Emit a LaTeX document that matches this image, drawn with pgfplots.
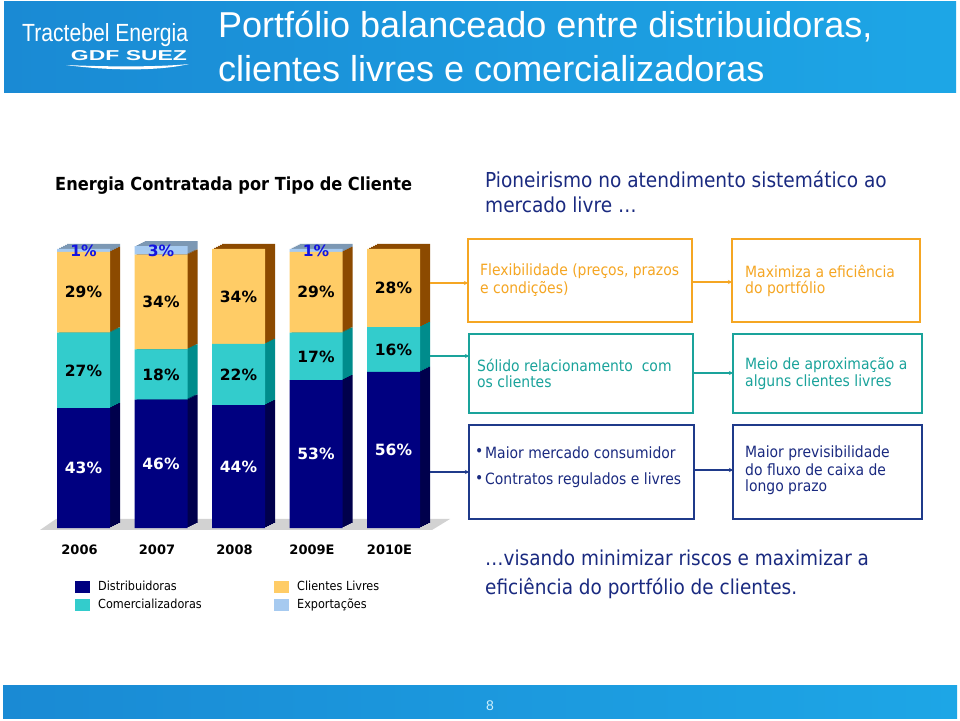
\documentclass[border=0pt]{standalone}
\usepackage{pgfplots}
\pgfplotsset{compat=1.18}
\usepackage{pgfplotstable}
\usepackage{fontspec}
\usepackage{graphicx}
\setmainfont{Liberation Sans}
\newfontfamily\tah{DejaVu Sans Condensed}
\newfontfamily\verd{DejaVu Sans}
\usetikzlibrary{arrows.meta}

\definecolor{cDist}{HTML}{000080}
\definecolor{cDistS}{HTML}{00004C}
\definecolor{cCom}{HTML}{33CCCC}
\definecolor{cComS}{HTML}{008C8C}
\definecolor{cCli}{HTML}{FFCC66}
\definecolor{cCliS}{HTML}{8C4A00}
\definecolor{cExp}{HTML}{A6CAF0}
\definecolor{cExpS}{HTML}{7C98B4}
\definecolor{hdr}{HTML}{1DA6E6}
\definecolor{hdrD}{HTML}{1A8AD4}
\definecolor{cOr}{HTML}{F5A623}
\definecolor{cTe}{HTML}{1AA39B}
\definecolor{cNv}{HTML}{1F3A8A}
\definecolor{txtNv}{HTML}{1A2A80}
\definecolor{lblBlue}{HTML}{1414E0}

\pgfplotstableread{
x dist com cli exp
0 43 27 29 1
1 46 18 34 3
2 44 22 34 0
3 53 17 29 1
4 56 16 28 0
}\datatab

\pgfplotsset{
  geom/.style={
    scale only axis, width=387.5pt, height=279pt,
    xmin=-0.5, xmax=4.5, ymin=0, ymax=100,
    anchor=south west, clip=false,
    axis line style={draw=none}, tick style={draw=none},
    ytick=\empty, xtick=\empty,
  },
  bars/.style={geom, ybar stacked, bar width=53pt},
}

\begin{document}
\begin{tikzpicture}[x=1pt,y=1pt]
\path[use as bounding box, fill=white] (0,0) rectangle (960,720);

% header
\shade[left color=hdrD, right color=hdr] (4,627) rectangle (956,718);
\node[anchor=base west, text=white, inner sep=0] at (22,678) {\resizebox{166pt}{18pt}{\fontsize{20}{24}\selectfont Tractebel Energia}};
\node[text=white, inner sep=0] at (129,664) {\resizebox{116pt}{10pt}{\bfseries\fontsize{14}{16}\selectfont GDF SUEZ}};
\fill[white] (66,655) .. controls (110,649) and (160,649) .. (189,656) .. controls (160,653) and (110,653) .. (66,655) -- cycle;
\node[anchor=base west, text=white, inner sep=0] at (218,682) {\fontsize{36}{40}\selectfont Portfólio balanceado entre distribuidoras,};
\node[anchor=base west, text=white, inner sep=0] at (218,638) {\fontsize{36}{40}\selectfont clientes livres e comercializadoras};

% footer
\shade[left color=hdrD, right color=hdr] (3,2) rectangle (957,35);
\node[text=cyan!20, inner sep=0] at (490,14) {\fontsize{14}{16}\selectfont 8};

% subtitles
\node[anchor=west, inner sep=0] at (55,534) {\tah\bfseries\fontsize{18}{21}\selectfont Energia Contratada por Tipo de Cliente};
\node[anchor=west, inner sep=0, text=txtNv] at (485,541) {\tah\fontsize{20.6}{24}\selectfont Pioneirismo no atendimento sistemático ao};
\node[anchor=west, inner sep=0, text=txtNv] at (485,515) {\tah\fontsize{20.6}{24}\selectfont mercado livre \dots};
\node[anchor=west, inner sep=0, text=txtNv] at (485,162) {\tah\fontsize{20.5}{24}\selectfont \dots visando minimizar riscos e maximizar a};
\node[anchor=west, inner sep=0, text=txtNv] at (485,132) {\tah\fontsize{20.5}{24}\selectfont eficiência do portfólio de clientes.};

% floor
\fill[gray!35] (40,190) -- (432,190) -- (450,201) -- (56,201) -- cycle;

% side faces (shifted darker copies)
\foreach \s in {5,4,3,2,1}{
\begin{axis}[bars, at={(44.75pt+2pt*\s,192pt+1pt*\s)}]
 \addplot[fill=cDistS, draw=none] table[x=x,y=dist]{\datatab};
 \addplot[fill=cComS, draw=none] table[x=x,y=com]{\datatab};
 \addplot[fill=cCliS, draw=none] table[x=x,y=cli]{\datatab};
 \addplot[fill=cExpS, draw=none] table[x=x,y=exp]{\datatab};
\end{axis}
}

% front faces
\begin{axis}[bars, at={(44.75pt,192pt)},
  xtick={0,1,2,3,4}, xticklabels={2006,2007,2008,2009E,2010E},
  xticklabel style={font=\verd\bfseries\fontsize{13}{15}\selectfont, anchor=center, yshift=-22pt, xshift=-4pt},
  legend columns=2, transpose legend, legend cell align=left,
  legend style={draw=none, fill=none, at={(0.078,-0.183)}, anchor=north west,
    font=\tah\fontsize{12.5}{14}\selectfont, row sep=3pt, inner sep=0pt},
  legend image code/.code={\fill[#1] (0pt,-6pt) rectangle (15pt,6pt);},
]
 \addplot[fill=cDist, draw=none] table[x=x,y=dist]{\datatab};
 \addlegendentry{\makebox[180pt][l]{\hspace{6pt}Distribuidoras}}
 \addplot[fill=cCom, draw=none] table[x=x,y=com]{\datatab};
 \addlegendentry{\makebox[180pt][l]{\hspace{6pt}Comercializadoras}}
 \addplot[fill=cCli, draw=none] table[x=x,y=cli]{\datatab};
 \addlegendentry{\hspace{6pt}Clientes Livres}
 \addplot[fill=cExp, draw=none] table[x=x,y=exp]{\datatab};
 \addlegendentry{\hspace{6pt}Exportações}
\end{axis}

% value labels
\begin{axis}[geom, at={(44.75pt,192pt)},
  /pgf/number format/assume math mode=true,
  nodes near coords={\pgfmathprintnumber{\pgfplotspointmeta}\%},
  point meta=explicit, nodes near coords align=center,
  every node near coord/.append style={anchor=center, inner sep=0pt, font=\verd\bfseries\fontsize{15.5}{17}\selectfont},
]
 \addplot[draw=none, mark=none, every node near coord/.append style={text=white}]
   table[x=x, y expr=\thisrow{dist}/2, meta=dist]{\datatab};
 \addplot[draw=none, mark=none, every node near coord/.append style={text=black}]
   table[x=x, y expr=\thisrow{dist}+\thisrow{com}/2, meta=com]{\datatab};
 \addplot[draw=none, mark=none, every node near coord/.append style={text=black}]
   table[x=x, y expr=\thisrow{dist}+\thisrow{com}+\thisrow{cli}/2, meta=cli]{\datatab};
 \addplot[draw=none, mark=none, restrict expr to domain={\thisrow{exp}}{0.5:50}, every node near coord/.append style={text=lblBlue}]
   table[x=x, y expr=\thisrow{dist}+\thisrow{com}+\thisrow{cli}+\thisrow{exp}/2, meta=exp]{\datatab};
\end{axis}

% boxes
\draw[cOr, line width=1.6pt] (468,398) rectangle (692,481);
\draw[cOr, line width=1.6pt] (732,398) rectangle (920,481);
\draw[cTe, line width=1.6pt] (469,307) rectangle (693,386);
\draw[cTe, line width=1.6pt] (733,307) rectangle (922,386);
\draw[cNv, line width=1.6pt] (469,201) rectangle (694,295);
\draw[cNv, line width=1.6pt] (733,201) rectangle (922,295);

% connectors
\draw[cOr, line width=1.2pt, -{Stealth[length=4pt,width=4pt]}] (430,437) -- (468,437);
\draw[cTe, line width=1.2pt, -{Stealth[length=4pt,width=4pt]}] (430,364) -- (469,364);
\draw[cNv, line width=1.2pt, -{Stealth[length=4pt,width=4pt]}] (430,248) -- (469,248);
\draw[cOr, line width=1.2pt, -{Stealth[length=4pt,width=4pt]}] (692,438) -- (732,438);
\draw[cTe, line width=1.2pt, -{Stealth[length=4pt,width=4pt]}] (693,347) -- (733,347);
\draw[cNv, line width=1.2pt, -{Stealth[length=4pt,width=4pt]}] (694,250) -- (733,250);

% box texts
\begin{scope}[every node/.style={anchor=west, inner sep=0, font=\tah\fontsize{15.5}{18}\selectfont}]
\node[text=cOr] at (480,449) {Flexibilidade (preços, prazos};
\node[text=cOr] at (480,431) {e condições)};
\node[text=cOr] at (745,449) {Maximiza a eficiência};
\node[text=cOr] at (745,431) {do portfólio};
\node[text=cTe] at (477,355) {Sólido relacionamento\ \ com};
\node[text=cTe] at (477,338) {os clientes};
\node[text=cTe] at (745,355) {Meio de aproximação a};
\node[text=cTe] at (745,338) {alguns clientes livres};
\node[text=txtNv] at (475,267) {•};
\node[text=txtNv] at (485,267) {Maior mercado consumidor};
\node[text=txtNv] at (475,240) {•};
\node[text=txtNv] at (485,240) {Contratos regulados e livres};
\node[text=txtNv] at (745,267) {Maior previsibilidade};
\node[text=txtNv] at (745,250) {do fluxo de caixa de};
\node[text=txtNv] at (745,233) {longo prazo};
\end{scope}
\end{tikzpicture}
\end{document}
